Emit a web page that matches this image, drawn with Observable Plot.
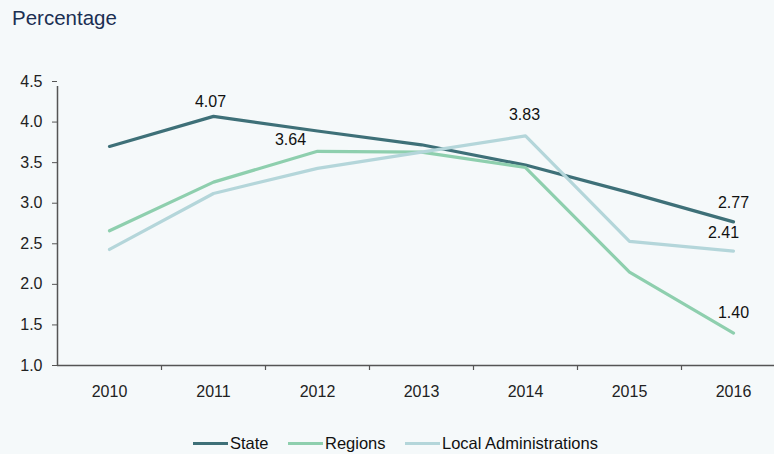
<!DOCTYPE html>
<html>
<head>
<meta charset="utf-8">
<script src="https://cdn.jsdelivr.net/npm/d3@7"></script>
<script src="https://cdn.jsdelivr.net/npm/@observablehq/plot@0.6"></script>
<style>
  html, body { margin: 0; padding: 0; background: #f5f9fa; }
  #wrap { position: relative; width: 774px; height: 454px; background: #f5f9fa; font-family: "Liberation Sans", Arial, sans-serif; overflow: hidden; }
  #title { position: absolute; left: 12px; top: 6px; font-size: 20.5px; color: #1b2f52; }
  #chart { position: absolute; left: 0; top: 50px; }
  #legend { position: absolute; left: 0; top: 433px; width: 774px; font-size: 16.5px; color: #111; }
  .item { position: absolute; top: 0; height: 20px; line-height: 20px; white-space: nowrap; }
  .sw { display: inline-block; width: 35px; height: 3px; vertical-align: middle; margin-right: 2px; position: relative; top: -1px; }
</style>
</head>
<body>
<div id="wrap">
  <div id="title">Percentage</div>
  <div id="chart"></div>
  <div id="legend"></div>
</div>
<script>
const years = [2010, 2011, 2012, 2013, 2014, 2015, 2016];
const state = [3.70, 4.07, 3.89, 3.72, 3.47, 3.13, 2.77];
const regions = [2.66, 3.26, 3.64, 3.63, 3.44, 2.15, 1.40];
const local = [2.43, 3.12, 3.43, 3.63, 3.83, 2.53, 2.41];
const seriesNames = ["State", "Regions", "Local Administrations"];
const colors = ["#3e7078", "#8ecfae", "#b4d6da"];
const yTicks = [1.0, 1.5, 2.0, 2.5, 3.0, 3.5, 4.0, 4.5];

const allSeries = [state, regions, local];
const data = [];
allSeries.forEach((vals, s) => years.forEach((yr, i) => data.push({series: seriesNames[s], year: yr, value: vals[i]})));
const pick = (s, yr) => data.filter(d => d.series === seriesNames[s] && d.year === yr);
const fmt = d => d.value.toFixed(2);
const bounds = years.slice(0, -1).map(y => y + 0.5);
const labelStyle = {x: "year", y: "value", text: fmt, fontSize: 16, fill: "#111"};

const plot = Plot.plot({
  width: 774,
  height: 360,
  marginTop: 31,
  marginBottom: 45,
  marginLeft: 57,
  marginRight: 0,
  style: {background: "transparent", fontFamily: "'Liberation Sans', Arial, sans-serif", fontSize: "16px", color: "#222"},
  x: {domain: [2009.5, 2016.5], range: [57, 785]},
  y: {domain: [1, 4.5]},
  marks: [
    Plot.ruleY([1], {stroke: "#555", strokeWidth: 1.5, x1: 2009.5, x2: 2016.5}),
    Plot.ruleX([2009.5], {stroke: "#555", strokeWidth: 1.5, y1: 1, y2: 4.5, insetBottom: -5}),
    Plot.axisY({ticks: yTicks, tickFormat: d => d.toFixed(1), tickSize: 5, tickPadding: 10, stroke: "#555", fill: "#222", fontSize: 16, label: null}),
    Plot.ruleX(bounds, {x: d => d, y1: 1, y2: 1, insetBottom: -5, stroke: "#555", strokeWidth: 1.2}),
    Plot.axisX({ticks: years, tickFormat: d => String(d), tickSize: 0, tickPadding: 20, fill: "#222", fontSize: 16, label: null}),
    Plot.line(data, {x: "year", y: "value", z: "series", stroke: d => colors[seriesNames.indexOf(d.series)], strokeWidth: 3.2}),
    Plot.text(pick(0, 2011), {...labelStyle, dx: -3, dy: -15}),
    Plot.text(pick(1, 2012), {...labelStyle, dx: -27, dy: -11}),
    Plot.text(pick(2, 2014), {...labelStyle, dx: -1, dy: -21}),
    Plot.text(pick(0, 2016), {...labelStyle, dx: 0, dy: -19}),
    Plot.text(pick(2, 2016), {...labelStyle, dx: -10, dy: -18}),
    Plot.text(pick(1, 2016), {...labelStyle, dx: 0, dy: -20})
  ]
});
document.getElementById("chart").appendChild(plot);

const legendLeft = [193, 288, 405];
const legend = document.getElementById("legend");
seriesNames.forEach((n, i) => {
  const it = document.createElement("div");
  it.className = "item";
  it.style.left = legendLeft[i] + "px";
  it.innerHTML = `<span class="sw" style="background:${colors[i]}"></span>${n}`;
  legend.appendChild(it);
});
</script>
</body>
</html>
